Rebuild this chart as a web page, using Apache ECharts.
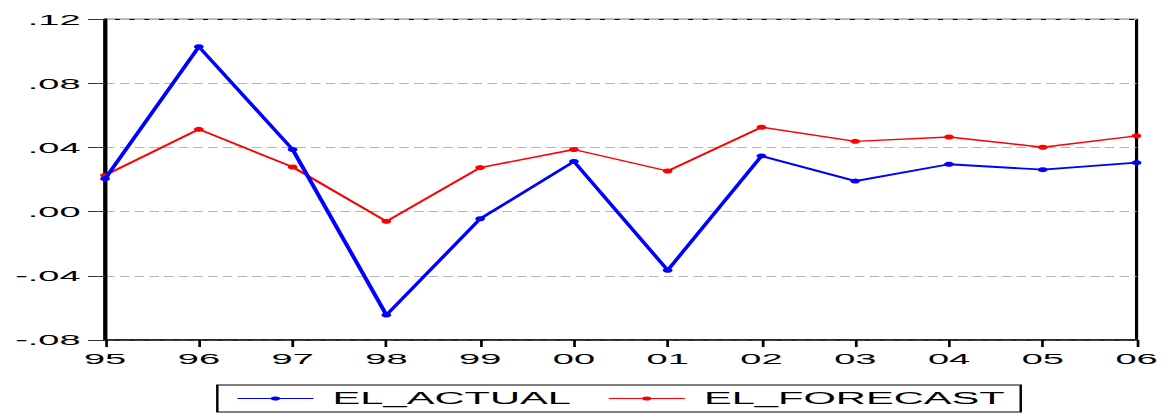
<!DOCTYPE html>
<html>
<head>
<meta charset="utf-8">
<script src="https://cdn.jsdelivr.net/npm/echarts@6/dist/echarts.min.js"></script>
<style>
html,body{margin:0;padding:0;background:#fff;overflow:hidden;width:1169px;height:417px;}
#chart{position:absolute;left:0;top:0;width:477.14px;height:417px;transform:scaleX(2.45);transform-origin:0 0;}
</style>
</head>
<body>
<div id="chart"></div>
<script>
var years = ['95','96','97','98','99','00','01','02','03','04','05','06'];
var elActual = [0.0206, 0.1029, 0.0388, -0.0644, -0.0044, 0.0313, -0.0365, 0.0348, 0.0191, 0.0296, 0.0262, 0.0306];
var elForecast = [0.0227, 0.0514, 0.0279, -0.0060, 0.0275, 0.0388, 0.0254, 0.0527, 0.0439, 0.0466, 0.0402, 0.0473];
var seriesNames = ['EL_ACTUAL', 'EL_FORECAST'];
var yMin = -0.08, yMax = 0.12, yStep = 0.04;

function fmtY(v){
  if (Math.abs(v) < 1e-9) v = 0;
  var s = v.toFixed(2);
  return s.replace('0.', '.');
}

var chart = echarts.init(document.getElementById('chart'), null, {renderer:'svg'});
var font = 'Liberation Sans, Arial, sans-serif';
chart.setOption({
  animation:false,
  backgroundColor:'#fff',
  grid:{left:42.9, right:13.1, top:19.3, bottom:77, show:true, borderColor:'#000', borderWidth:1.3, backgroundColor:'transparent'},
  legend:{
    data:seriesNames,
    left:88.7, top:385,
    orient:'horizontal',
    itemWidth:31, itemHeight:5, itemGap:15,
    padding:[5,6.5,5,7.8],
    borderColor:'#000', borderWidth:1,
    lineStyle:{width:0.9},
    textStyle:{fontFamily:font, fontSize:17, color:'#000', padding:[0,0,0,2.8]}
  },
  xAxis:{
    type:'category', data:years, boundaryGap:false,
    axisLine:{show:true, onZero:false, lineStyle:{color:'#222', width:1.5}},
    axisTick:{show:true, inside:false, length:7, lineStyle:{color:'#000', width:1.1}},
    axisLabel:{fontFamily:font, fontSize:15.5, color:'#000', margin:11},
    splitLine:{show:false}
  },
  yAxis:{
    type:'value', min:yMin, max:yMax, interval:yStep,
    axisLine:{show:true, lineStyle:{color:'#000', width:1.7}},
    axisTick:{show:true, length:7, lineStyle:{color:'#333', width:1}},
    axisLabel:{fontFamily:font, fontSize:15.5, color:'#000', margin:10, formatter:fmtY},
    splitLine:{show:true, lineStyle:{color:'#b4b4b4', width:1, type:[4,2]}}
  },
  series:[
    {name:seriesNames[0], type:'line', data:elActual, symbol:'circle', symbolSize:[4,5], showAllSymbol:true,
     lineStyle:{color:'#0000ff', width:1.8}, itemStyle:{color:'#0000ff'}, z:3},
    {name:seriesNames[1], type:'line', data:elForecast, symbol:'circle', symbolSize:[4,5], showAllSymbol:true,
     lineStyle:{color:'#ff0000', width:1.4}, itemStyle:{color:'#ff0000'}, z:2}
  ]
});
</script>
</body>
</html>
